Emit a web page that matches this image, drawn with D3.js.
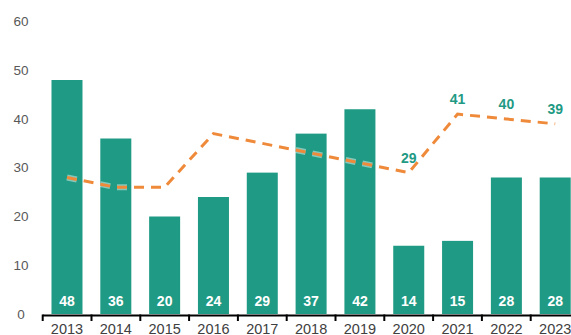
<!DOCTYPE html>
<html>
<head>
<meta charset="utf-8">
<script src="https://cdn.jsdelivr.net/npm/d3@7"></script>
<style>
  html, body { margin: 0; padding: 0; background: #fff; }
  svg { display: block; font-family: "Liberation Sans", Arial, sans-serif; }
</style>
</head>
<body>
<svg id="chart" width="571" height="335"></svg>
<script>
// Yearly counts (bars) and trend line
const years = ["2013","2014","2015","2016","2017","2018","2019","2020","2021","2022","2023"];
const barValues = [48, 36, 20, 24, 29, 37, 42, 14, 15, 28, 28];
const lineValues = [28, 26, 26, 37, 35, 33, 31, 29, 41, 40, 39];
const lineLabelYears = ["2020","2021","2022","2023"];
const yTicks = [0, 10, 20, 30, 40, 50, 60];

const svg = d3.select("#chart");
const barColor = "#1f9a84";
const lineColor = "#ef8a3a";

const x = d3.scaleBand().domain(years).range([42.7, 579.5]).paddingInner(0.365).paddingOuter(0.18);
const y = d3.scaleLinear().domain([0, 60]).range([314, 21.5]);

// y-axis labels (no axis line)
svg.append("g").selectAll("text").data(yTicks).join("text")
  .attr("x", 21).attr("y", d => y(d)).attr("dy", "0.35em")
  .attr("text-anchor", "middle")
  .attr("font-size", 13.5).attr("fill", "#595959")
  .text(d => d);

// bars
svg.append("g").selectAll("rect").data(years).join("rect")
  .attr("x", d => x(d)).attr("width", x.bandwidth())
  .attr("y", (d, i) => y(barValues[i]))
  .attr("height", (d, i) => y(0) - y(barValues[i]))
  .attr("fill", barColor);

// bar value labels
svg.append("g").selectAll("text").data(years).join("text")
  .attr("x", d => x(d) + x.bandwidth() / 2).attr("y", 301).attr("dy", "0.35em")
  .attr("text-anchor", "middle")
  .attr("font-size", 14).attr("font-weight", "bold").attr("fill", "#fff")
  .text((d, i) => barValues[i]);

// x-axis
const xTicksScale = d3.scaleLinear().domain([0, years.length]).range([42.7, 579.5]);
const axis = svg.append("g");
axis.append("line").attr("x1", 42.7).attr("x2", 571).attr("y1", 315.5).attr("y2", 315.5)
  .attr("stroke", "#000").attr("stroke-width", 2);
axis.selectAll("line.tick").data(d3.range(years.length + 1)).join("line")
  .attr("class", "tick")
  .attr("x1", d => xTicksScale(d)).attr("x2", d => xTicksScale(d))
  .attr("y1", 314.5).attr("y2", 321)
  .attr("stroke", "#000").attr("stroke-width", 2);
axis.selectAll("text").data(years).join("text")
  .attr("x", d => x(d) + x.bandwidth() / 2).attr("y", 328.5).attr("dy", "0.35em")
  .attr("text-anchor", "middle")
  .attr("font-size", 14.5).attr("fill", "#404040")
  .text(d => d);

// trend line with a faint dashed halo
const cx = d => x(d) + x.bandwidth() / 2;
const line = d3.line().x((d, i) => cx(years[i])).y(d => y(d));
svg.append("path").datum(lineValues)
  .attr("d", line).attr("fill", "none")
  .attr("stroke", "#fff").attr("stroke-opacity", 0.45).attr("stroke-width", 6)
  .attr("stroke-dasharray", "10,7");
svg.append("path").datum(lineValues)
  .attr("d", line).attr("fill", "none")
  .attr("stroke", lineColor).attr("stroke-width", 3)
  .attr("stroke-dasharray", "10,7");

// trend line labels
svg.append("g").selectAll("text").data(lineLabelYears).join("text")
  .attr("x", d => cx(d))
  .attr("y", d => y(lineValues[years.indexOf(d)]) - 15).attr("dy", "0.35em")
  .attr("text-anchor", "middle")
  .attr("font-size", 14).attr("font-weight", "bold").attr("fill", "#1f9a84")
  .text(d => lineValues[years.indexOf(d)]);
</script>
</body>
</html>
